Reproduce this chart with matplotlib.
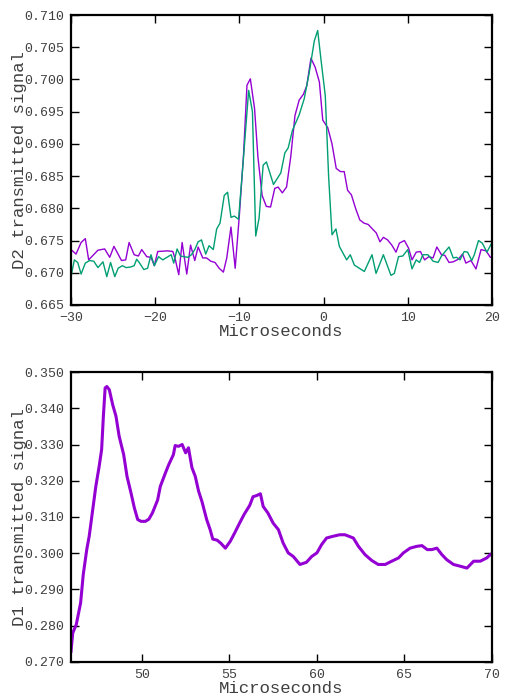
import numpy as np
import matplotlib
matplotlib.use("Agg")
from matplotlib import pyplot as plt

## top panel: D2 signal, two runs
d2_purple_t = [
    -30.0, -29.4, -28.8, -28.3, -27.9, -26.8, -26.0, -25.4, -24.9, -24.0,
    -23.5, -23.1, -22.5, -22.0, -21.6, -21.0, -20.5, -20.1, -19.7, -18.5,
    -17.9, -17.6, -17.2, -16.8, -16.25, -15.8, -15.3, -14.9, -14.35, -13.9,
    -13.4, -12.9, -12.4, -11.9, -11.5, -11.0, -10.5, -10.0, -9.5, -9.1,
    -8.7, -8.2, -7.8, -7.3, -6.8, -6.3, -5.8, -5.4, -4.9, -4.4,
    -3.9, -3.4, -2.9, -2.4, -2.0, -1.5, -1.0, -0.5, -0.1, 0.5,
    1.0, 1.5, 2.0, 2.45, 2.85, 3.3, 3.8, 4.3, 4.8, 5.3,
    5.8, 6.25, 6.7, 7.1, 7.6, 8.1, 8.6, 9.0, 9.6, 10.1,
    10.5, 11.0, 11.5, 12.0, 12.5, 13.0, 13.45, 14.0, 14.4, 14.9,
    15.4, 16.0, 16.5, 16.9, 17.5, 18.1, 18.7, 19.3, 19.8, 20.0,
]
d2_purple = [
    0.6736, 0.6729, 0.6747, 0.6753, 0.6720, 0.6735, 0.6737, 0.6724, 0.6741, 0.6719,
    0.6720, 0.6747, 0.6728, 0.6726, 0.6736, 0.6725, 0.6724, 0.6711, 0.6733, 0.6734,
    0.6733, 0.6720, 0.6697, 0.6747, 0.6698, 0.6743, 0.6719, 0.6740, 0.6723, 0.6723,
    0.6718, 0.6716, 0.6707, 0.6701, 0.6723, 0.6771, 0.6707, 0.6790, 0.6885, 0.6991,
    0.7001, 0.6955, 0.6880, 0.6820, 0.6803, 0.6802, 0.6831, 0.6833, 0.6824, 0.6833,
    0.6880, 0.6944, 0.6968, 0.6977, 0.6990, 0.7033, 0.7019, 0.6996, 0.6937, 0.6925,
    0.6900, 0.6862, 0.6857, 0.6857, 0.6828, 0.6821, 0.6800, 0.6782, 0.6777, 0.6775,
    0.6768, 0.6762, 0.6748, 0.6755, 0.6751, 0.6743, 0.6732, 0.6746, 0.6750, 0.6738,
    0.6720, 0.6732, 0.6733, 0.6720, 0.6725, 0.6723, 0.6740, 0.6728, 0.6727, 0.6716,
    0.6717, 0.6721, 0.6729, 0.6715, 0.6719, 0.6706, 0.6736, 0.6734, 0.6724, 0.6725,
]

d2_green_t = [
    -30.0, -29.6, -29.2, -28.8, -28.3, -27.8, -27.3, -26.8, -26.2, -25.75,
    -25.3, -24.8, -24.4, -23.9, -23.45, -22.9, -22.5, -22.2, -21.9, -21.35,
    -20.9, -20.5, -20.1, -19.6, -19.1, -18.6, -18.1, -17.8, -17.4, -17.0,
    -16.6, -16.1, -15.7, -15.3, -14.9, -14.5, -14.0, -13.6, -13.1, -12.7,
    -12.3, -11.8, -11.4, -11.0, -10.6, -10.1, -9.6, -8.9, -8.45, -8.06,
    -7.66, -7.18, -6.79, -5.95, -5.08, -4.6, -4.2, -3.7, -2.9, -2.3,
    -1.7, -1.1, -0.7, -0.32, 0.2, 0.6, 1.0, 1.47, 1.87, 2.74,
    3.17, 3.65, 4.84, 5.75, 6.23, 7.1, 8.0, 8.4, 8.9, 9.4,
    10.0, 10.5, 11.0, 11.4, 11.8, 12.4, 13.0, 13.6, 14.0, 14.9,
    15.4, 15.8, 16.2, 16.7, 17.1, 17.6, 17.9, 18.4, 18.85, 19.4, 20.0,
]
d2_green = [
    0.6694, 0.6720, 0.6716, 0.6698, 0.6715, 0.6719, 0.6718, 0.6708, 0.6717, 0.6694,
    0.6716, 0.6694, 0.6707, 0.6711, 0.6708, 0.6709, 0.6711, 0.6721, 0.6716, 0.6705,
    0.6707, 0.6728, 0.6711, 0.6725, 0.6720, 0.6724, 0.6728, 0.6715, 0.6737, 0.6726,
    0.6725, 0.6724, 0.6728, 0.6736, 0.6748, 0.6751, 0.6729, 0.6742, 0.6736, 0.6768,
    0.6777, 0.6820, 0.6825, 0.6786, 0.6788, 0.6783, 0.6864, 0.6983, 0.6950, 0.6757,
    0.6785, 0.6867, 0.6872, 0.6837, 0.6855, 0.6886, 0.6894, 0.6921, 0.6945, 0.6970,
    0.7011, 0.7060, 0.7076, 0.7032, 0.6975, 0.6849, 0.6759, 0.6768, 0.6741, 0.6720,
    0.6728, 0.6712, 0.6702, 0.6728, 0.6699, 0.6728, 0.6696, 0.6699, 0.6725, 0.6726,
    0.6736, 0.6706, 0.6720, 0.6716, 0.6728, 0.6728, 0.6718, 0.6716, 0.6726, 0.6740,
    0.6723, 0.6724, 0.6720, 0.6733, 0.6732, 0.6719, 0.6728, 0.6750, 0.6746, 0.6732, 0.6747,
]

## bottom panel: D1 signal
d1_t = [
    45.95, 46.05, 46.25, 46.5, 46.65, 46.85, 46.99, 47.18, 47.37, 47.56,
    47.7, 47.8, 47.9, 48.0, 48.14, 48.33, 48.52, 48.7, 48.96, 49.15,
    49.38, 49.57, 49.76, 49.95, 50.2, 50.4, 50.6, 50.9, 51.05, 51.34,
    51.53, 51.8, 51.9, 52.1, 52.3, 52.5, 52.66, 52.86, 53.05, 53.24,
    53.43, 53.7, 53.9, 54.05, 54.3, 54.5, 54.77, 55.05, 55.3, 55.58,
    55.85, 56.16, 56.35, 56.55, 56.77, 56.93, 57.2, 57.5, 57.8, 58.07,
    58.36, 58.65, 59.03, 59.4, 59.7, 60.0, 60.27, 60.55, 60.94, 61.3,
    61.6, 62.08, 62.37, 62.75, 63.13, 63.5, 63.9, 64.27, 64.66, 64.94,
    65.32, 65.7, 66.0, 66.3, 66.56, 66.85, 67.14, 67.42, 67.8, 68.2,
    68.57, 68.95, 69.33, 69.7, 69.9,
]
d1 = [
    0.2729, 0.2780, 0.2803, 0.2863, 0.2941, 0.3010, 0.3047, 0.3116, 0.3185, 0.3240,
    0.3286, 0.3378, 0.3456, 0.3460, 0.3451, 0.3410, 0.3378, 0.3323, 0.3272, 0.3212,
    0.3166, 0.3125, 0.3093, 0.3088, 0.3088, 0.3094, 0.3111, 0.3147, 0.3184, 0.3221,
    0.3244, 0.3272, 0.3297, 0.3295, 0.3300, 0.3277, 0.3291, 0.3236, 0.3212, 0.3171,
    0.3143, 0.3093, 0.3065, 0.3039, 0.3036, 0.3028, 0.3014, 0.3033, 0.3056, 0.3083,
    0.3108, 0.3132, 0.3156, 0.3159, 0.3164, 0.3129, 0.3111, 0.3083, 0.3065, 0.3028,
    0.3001, 0.2991, 0.2969, 0.2975, 0.2991, 0.3001, 0.3024, 0.3042, 0.3047, 0.3051,
    0.3051, 0.3042, 0.3019, 0.2996, 0.2980, 0.2969, 0.2969, 0.2978, 0.2987, 0.3001,
    0.3014, 0.3019, 0.3021, 0.3010, 0.3010, 0.3014, 0.2996, 0.2982, 0.2969, 0.2964,
    0.2959, 0.2978, 0.2978, 0.2987, 0.2996,
]

purple = "#9400d3"
green = "#009e73"
text_col = "#404040"

plt.rcParams["font.family"] = ["Liberation Mono", "DejaVu Sans Mono"]


def style_axes(ax, xlabel, ylabel):
    ax.tick_params(direction="in", top=True, right=True, length=6, width=1,
                   labelsize=9.5, labelcolor=text_col, pad=5)
    for s in ax.spines.values():
        s.set_linewidth(1.6)
    ax.set_xlabel(xlabel, fontsize=12.5, color=text_col)
    ax.set_ylabel(ylabel, fontsize=12.5, color=text_col)
    ax.yaxis.set_label_coords(-0.104, 0.5)
    ax.xaxis.set_label_coords(0.5, -0.066)


fig = plt.figure(figsize=(5.06, 6.96), dpi=100)

ax1 = fig.add_axes([0.1403, 0.5618, 0.832, 0.4166])
ax1.plot(d2_purple_t, d2_purple, color=purple, lw=1.0)
ax1.plot(d2_green_t, d2_green, color=green, lw=1.0)
ax1.set_xlim(-30, 20)
ax1.set_ylim(0.665, 0.710)
ax1.set_xticks(np.arange(-30, 21, 10))
ax1.set_yticks(np.arange(0.665, 0.7101, 0.005))
ax1.yaxis.set_major_formatter(matplotlib.ticker.FormatStrFormatter("%.3f"))
style_axes(ax1, "Microseconds", "D2 transmitted signal")

ax2 = fig.add_axes([0.1403, 0.0489, 0.832, 0.4166])
ax2.plot(d1_t, d1, color=purple, lw=2.2)
ax2.set_xlim(45.95, 70)
ax2.set_ylim(0.270, 0.350)
ax2.set_xticks(np.arange(50, 71, 5))
ax2.set_yticks(np.arange(0.27, 0.3501, 0.01))
ax2.yaxis.set_major_formatter(matplotlib.ticker.FormatStrFormatter("%.3f"))
style_axes(ax2, "Microseconds", "D1 transmitted signal")

fig.savefig("out.png", dpi=100)
